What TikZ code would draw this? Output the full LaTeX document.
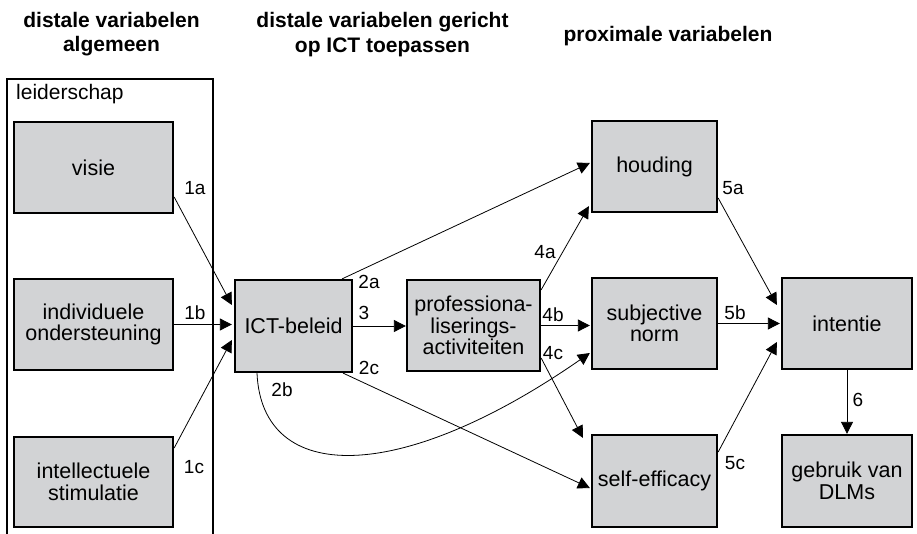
\documentclass[tikz,border=0pt]{standalone}
\usepackage{fontspec}
\setmainfont{Liberation Sans}
\usetikzlibrary{arrows.meta}
\definecolor{boxgray}{RGB}{210,211,213}
\newcommand{\myboxfont}{\fontsize{21.5}{21.5}\selectfont}
\newcommand{\myheadfont}{\fontsize{21}{24.5}\selectfont\bfseries}
\newcommand{\mylabfont}{\fontsize{19}{19}\selectfont}
\begin{document}
\begin{tikzpicture}[x=1pt,y=-1pt,
  box/.style={draw, line width=2.3pt, fill=boxgray, inner sep=0pt, align=center, font=\myboxfont},
  conn/.style={line width=0.8pt, -{Triangle[length=12pt,width=12pt]}},
  lab/.style={inner sep=0pt, font=\mylabfont},
  head/.style={inner sep=0pt, align=center, font=\myheadfont}]
\useasboundingbox (0,0) rectangle (917,534);

% headers
\node[head, anchor=north] (h1) at (111.5,12) {distale variabelen\\algemeen};
\node[head, anchor=north] (h2) at (382.5,12.5) {distale variabelen gericht\\op ICT toepassen};
\node[head, anchor=base] (h3) at (668,42) {proximale variabelen};

% leiderschap frame
\draw[line width=2pt] (7,545) -- (7,79) -- (213,79) -- (213,545);
\node[anchor=base west, inner sep=0pt, font=\fontsize{21}{21}\selectfont] (leidlab) at (16,100) {leiderschap};

% boxes
\node[box, minimum width=159pt, minimum height=91pt] (visie) at (93.5,167.5) {visie};
\node[box, minimum width=159pt, minimum height=91pt] (indiv) at (93.5,324.5) {individuele\\ondersteuning};
\node[box, minimum width=159pt, minimum height=90pt] (intell) at (93.5,482) {intellectuele\\stimulatie};
\node[box, minimum width=117pt, minimum height=92pt] (ICT) at (293.5,326) {ICT-beleid};
\node[box, minimum width=133pt, minimum height=91pt] (prof) at (473.5,325.5) {professiona-\\liserings-\\activiteiten};
\node[box, minimum width=125pt, minimum height=91pt] (houding) at (654.5,166.5) {houding};
\node[box, minimum width=125pt, minimum height=91pt] (subj) at (654.5,323.5) {subjective\\norm};
\node[box, minimum width=125pt, minimum height=92pt] (self) at (654.5,481) {self-efficacy};
\node[box, minimum width=130pt, minimum height=91pt] (intentie) at (847,323.5) {intentie};
\node[box, minimum width=130pt, minimum height=92pt] (gebruik) at (847,481) {gebruik van\\DLMs};

% connectors
\draw[conn] ([yshift=-29.5pt]visie.east) -- ([xshift=-2pt,yshift=21pt]ICT.west);
\draw[conn] (indiv.east) -- ([xshift=-2pt]indiv.east -| ICT.west);
\draw[conn] ([yshift=34pt]intell.east) -- ([xshift=-2pt,yshift=-14pt]ICT.west);
\draw[conn] ([xshift=-11pt]ICT.north east) -- ([xshift=-1pt,yshift=3.5pt]houding.west);
\draw[conn] (ICT.east) -- (ICT.east -| prof.west);
\draw[conn] ([xshift=-10pt]ICT.south east) -- ([xshift=-1pt,yshift=-7pt]self.west);
\draw[conn] ([xshift=-36.5pt]ICT.south) .. controls +(5,112) and +(-190,132) .. ([xshift=-1pt,yshift=-29.5pt]subj.west);
\draw[conn] ([yshift=-11pt]prof.north east) -- ([xshift=-2pt,yshift=7pt]houding.south west);
\draw[conn] (prof.east) -- ([xshift=-1pt]prof.east -| subj.west);
\draw[conn] ([yshift=-32.5pt]prof.east) -- ([xshift=-8pt,yshift=-4pt]self.north west);
\draw[conn] ([yshift=-31.5pt]houding.east) -- ([xshift=-4pt,yshift=18.5pt]intentie.west);
\draw[conn] (subj.east) -- ([xshift=-1pt]subj.east -| intentie.west);
\draw[conn] ([yshift=29pt]self.east) -- ([xshift=-4pt,yshift=-18.5pt]intentie.west);
\draw[conn] (intentie.south) -- (gebruik.north);

% labels
\node[lab] (l1a) at (195,188) {1a};
\node[lab] (l1b) at (195,313) {1b};
\node[lab] (l1c) at (194,467) {1c};
\node[lab] (l2a) at (369,282) {2a};
\node[lab] (l3) at (364,313) {3};
\node[lab] (l2c) at (369,368) {2c};
\node[lab] (l2b) at (282,390) {2b};
\node[lab] (l4a) at (545,252) {4a};
\node[lab] (l4b) at (553,315) {4b};
\node[lab] (l4c) at (553,353) {4c};
\node[lab] (l5a) at (733,188) {5a};
\node[lab] (l5b) at (735,313) {5b};
\node[lab] (l5c) at (735,463) {5c};
\node[lab] (l6) at (858,400) {6};
\end{tikzpicture}
\end{document}
